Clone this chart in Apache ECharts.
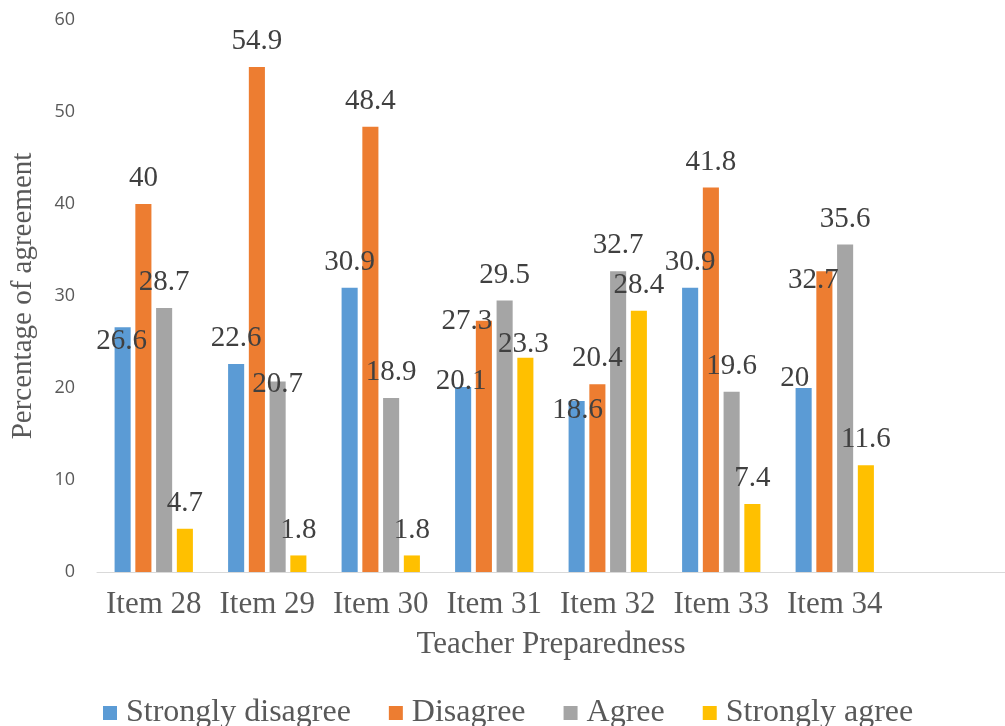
<!DOCTYPE html>
<html>
<head>
<meta charset="utf-8">
<script src="https://cdn.jsdelivr.net/npm/echarts@6/dist/echarts.min.js"></script>
<style>
  html, body { margin: 0; padding: 0; background: #ffffff; }
  #chart { width: 1005px; height: 726px; }
</style>
</head>
<body>
<div id="chart"></div>
<script>
// Survey items on the category axis
const categories = ['Item 28', 'Item 29', 'Item 30', 'Item 31', 'Item 32', 'Item 33', 'Item 34'];

// Percentage of agreement per response option
const stronglyDisagree = [26.6, 22.6, 30.9, 20.1, 18.6, 30.9, 20];
const disagree         = [40, 54.9, 48.4, 27.3, 20.4, 41.8, 32.7];
const agree            = [28.7, 20.7, 18.9, 29.5, 32.7, 19.6, 35.6];
const stronglyAgree    = [4.7, 1.8, 1.8, 23.3, 28.4, 7.4, 11.6];

const yTicks = [0, 10, 20, 30, 40, 50, 60];

// Hand-nudged value labels (pixel shifts from the default spot above the bar)
const labelNudges = {
  'Strongly disagree': { 0: [-1, 40], 3: [-2, 20], 4: [1, 35], 6: [-9, 16] },
  'Disagree':          { 3: [-17, 26], 6: [-11, 35] },
  'Agree':             { 1: [0, 28] },
  'Strongly agree':    { 3: [-2, 12] }
};

const seriesDefs = [
  { name: 'Strongly disagree', values: stronglyDisagree, color: '#5B9BD5' },
  { name: 'Disagree',          values: disagree,         color: '#ED7D31' },
  { name: 'Agree',             values: agree,            color: '#A5A5A5' },
  { name: 'Strongly agree',    values: stronglyAgree,    color: '#FFC000' }
];

const serif = '"Liberation Serif", "Times New Roman", serif';

const chart = echarts.init(document.getElementById('chart'), null, { renderer: 'canvas' });

const series = seriesDefs.map(def => ({
  name: def.name,
  type: 'bar',
  barGap: '29%',
  barCategoryGap: '31%',
  itemStyle: { color: def.color },
  label: {
    show: true,
    position: 'top',
    distance: 11,
    fontFamily: serif,
    fontSize: 29,
    color: '#404040'
  },
  data: def.values.map((v, i) => {
    const nudge = (labelNudges[def.name] || {})[i];
    return nudge ? { value: v, label: { offset: nudge } } : v;
  })
}));

chart.setOption({
  animation: false,
  backgroundColor: '#ffffff',
  grid: { left: 97, right: 0, top: 20, bottom: 154, containLabel: false },
  legend: {
    left: 98,
    top: 692,
    itemWidth: 14,
    itemHeight: 14,
    itemGap: 38,
    icon: 'rect',
    textStyle: {
      fontFamily: serif,
      fontSize: 32,
      color: '#595959',
      padding: [0, 0, 0, 4]
    },
    data: seriesDefs.map(d => d.name)
  },
  xAxis: {
    type: 'category',
    // one spare unlabeled slot keeps the right-hand space after the last item
    data: categories.concat(['']),
    name: 'Teacher Preparedness',
    nameLocation: 'middle',
    nameGap: 57,
    nameTextStyle: { fontFamily: serif, fontSize: 31, color: '#595959' },
    axisLine: { show: true, lineStyle: { color: '#D9D9D9', width: 1 } },
    axisTick: { show: false },
    axisLabel: {
      fontFamily: serif,
      fontSize: 31,
      color: '#595959',
      margin: 17,
      interval: 0
    }
  },
  yAxis: {
    type: 'value',
    min: yTicks[0],
    max: yTicks[yTicks.length - 1],
    interval: yTicks[1] - yTicks[0],
    name: 'Percentage of agreement',
    nameLocation: 'middle',
    nameRotate: 90,
    nameGap: 59,
    nameTextStyle: { fontFamily: serif, fontSize: 29, color: '#595959' },
    axisLine: { show: false },
    axisTick: { show: false },
    splitLine: { show: false },
    axisLabel: {
      fontFamily: '"Open Sans", sans-serif',
      fontSize: 18,
      color: '#595959',
      margin: 22
    }
  },
  series: series
});
</script>
</body>
</html>
